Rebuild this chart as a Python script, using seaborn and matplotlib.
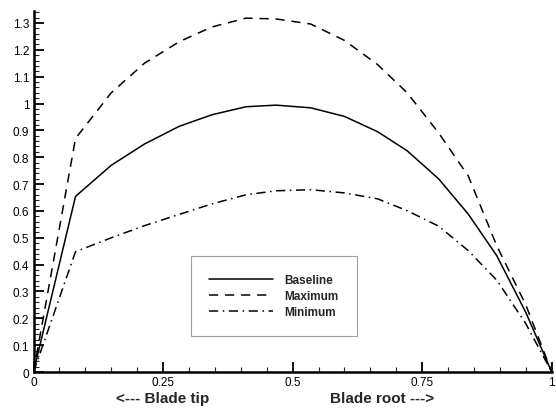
import matplotlib
matplotlib.use("Agg")
import matplotlib.pyplot as plt
import pandas as pd
import seaborn as sns
from matplotlib.ticker import MultipleLocator, FuncFormatter

# Positions le long de la pale (0 = bout, 1 = pied)
span = [0.0, 0.081, 0.15, 0.214, 0.281, 0.344, 0.41, 0.468, 0.535,
        0.60, 0.664, 0.721, 0.782, 0.839, 0.894, 0.95, 1.0]
baseline = [0.0, 0.654, 0.77, 0.849, 0.915, 0.958, 0.988, 0.994, 0.984,
            0.952, 0.895, 0.824, 0.719, 0.588, 0.433, 0.222, 0.0]
maximum = [0.0, 0.87, 1.04, 1.15, 1.23, 1.285, 1.318, 1.315, 1.296,
           1.235, 1.145, 1.04, 0.89, 0.73, 0.47, 0.25, 0.0]
minimum = [0.0, 0.448, 0.50, 0.545, 0.587, 0.626, 0.66, 0.675, 0.679,
           0.667, 0.645, 0.601, 0.543, 0.452, 0.342, 0.18, 0.0]

series_names = ["Baseline", "Maximum", "Minimum"]
series_styles = ["-", (0, (6, 4.5)), (0, (6, 3, 1, 3))]
x_ticks = [0, 0.25, 0.5, 0.75, 1]

df = pd.DataFrame({"span": span, "Baseline": baseline,
                   "Maximum": maximum, "Minimum": minimum})

sns.set_style("ticks")
plt.rcParams["font.family"] = ["Liberation Sans", "DejaVu Sans"]

fig = plt.figure(figsize=(5.56, 4.10), dpi=100)
ax = fig.add_axes([0.0603, 0.0902, 0.932, 0.8808])

for name, ls in zip(series_names, series_styles):
    sns.lineplot(data=df, x="span", y=name, ax=ax, color="black",
                 linestyle=ls, linewidth=1.1, label=name, sort=False)

ax.set_xlim(0, 1)
ax.set_ylim(0, 1.345)
ax.set_xticks(x_ticks)
ax.xaxis.set_minor_locator(MultipleLocator(0.05))
ax.yaxis.set_major_locator(MultipleLocator(0.1))
ax.yaxis.set_minor_locator(MultipleLocator(0.02))

def fmt(v, pos):
    s = f"{v:.2f}".rstrip("0").rstrip(".")
    return s

ax.xaxis.set_major_formatter(FuncFormatter(fmt))
ax.yaxis.set_major_formatter(FuncFormatter(fmt))

ax.tick_params(which="major", direction="in", length=7, width=1.3,
               labelsize=8.5, colors="black", pad=3)
ax.tick_params(which="minor", direction="in", length=3.5, width=0.8)
ax.set_xlabel("")
ax.set_ylabel("")

for side in ["top", "right"]:
    ax.spines[side].set_visible(False)
for side in ["left", "bottom"]:
    ax.spines[side].set_linewidth(1.8)
    ax.spines[side].set_color("black")

ax.text(0.25, -0.072, "<--- Blade tip", transform=ax.transAxes,
        ha="center", va="center", fontsize=11, fontweight="bold")
ax.text(0.672, -0.072, "Blade root --->", transform=ax.transAxes,
        ha="center", va="center", fontsize=11, fontweight="bold")

leg = ax.legend(loc="center", bbox_to_anchor=(0.464, 0.21), frameon=True,
                fancybox=False, handlelength=5.4, handletextpad=1.0,
                borderpad=1.5, labelspacing=0.35,
                prop={"size": 8.5, "weight": "bold"})
leg.get_frame().set_edgecolor("#888888")
leg.get_frame().set_linewidth(0.8)

fig.savefig("out.png", dpi=100)
